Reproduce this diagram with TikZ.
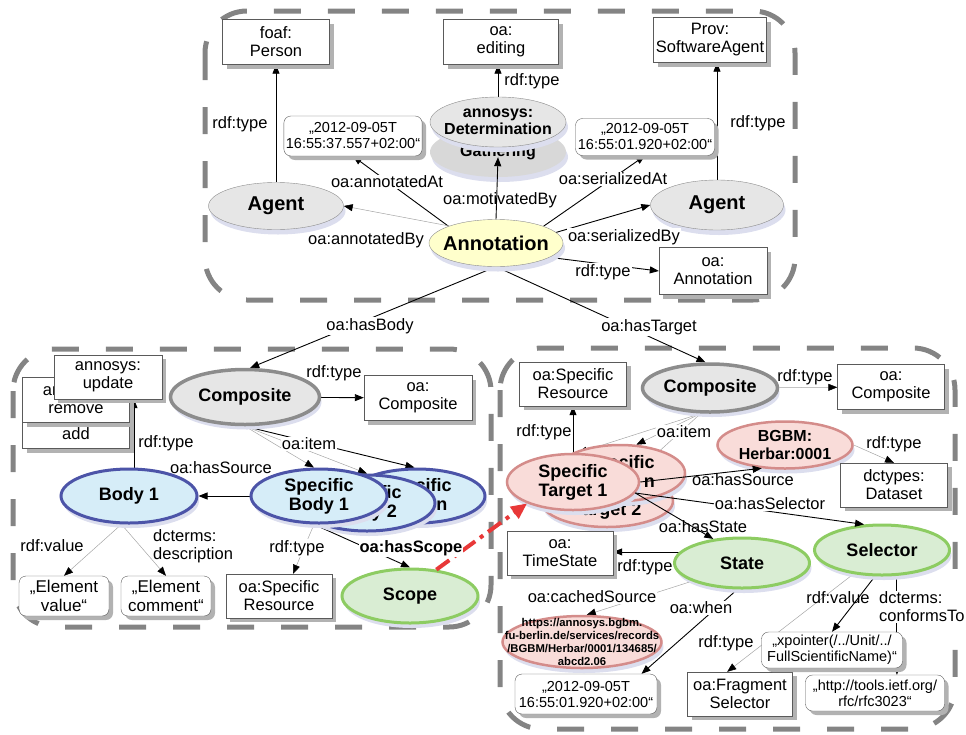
\documentclass[tikz,border=0pt]{standalone}
\usepackage{fontspec}
\setmainfont{Liberation Sans}
\usetikzlibrary{arrows.meta, positioning, shapes.geometric, shadows, backgrounds}
\definecolor{FrameGrey}{RGB}{132,132,132}
\definecolor{ResGrey}{RGB}{230,230,230}
\definecolor{ResLine}{RGB}{140,140,140}
\definecolor{GathGrey}{RGB}{216,216,216}
\definecolor{AnnoYellow}{RGB}{255,255,204}
\definecolor{BodyBlue}{RGB}{214,237,248}
\definecolor{BodyLine}{RGB}{76,84,168}
\definecolor{ScopeGreen}{RGB}{217,237,211}
\definecolor{ScopeLine}{RGB}{141,204,98}
\definecolor{TargetPink}{RGB}{249,220,217}
\definecolor{TargetLine}{RGB}{212,140,138}
\definecolor{BoxLine}{RGB}{90,90,90}
\definecolor{ShadowGrey}{RGB}{178,178,178}
\definecolor{ShadowBlue}{RGB}{220,222,238}
\definecolor{ThinGrey}{RGB}{165,165,165}
\definecolor{ScopeRed}{RGB}{232,56,56}
\newcommand{\txtfont}{\fontsize{16.5}{18}\selectfont}
\newcommand{\litfont}{\fontsize{14.5}{16}\selectfont}
\newcommand{\elemfont}{\fontsize{17}{18.5}\selectfont}
\newcommand{\resfont}{\fontsize{18}{19}\selectfont\bfseries}
\newcommand{\bigresfont}{\fontsize{20}{22}\selectfont\bfseries}
\newcommand{\detfont}{\fontsize{16}{17}\selectfont\bfseries}
\newcommand{\cachefont}{\fontsize{11.3}{13.3}\selectfont\bfseries}

\begin{document}
\begin{tikzpicture}[x=1pt, y=-1pt, every node/.style={font=\txtfont},
    frame/.style={draw=FrameGrey, line width=5pt, dash pattern=on 27pt off 27pt, rounded corners=42pt},
    cls/.style={draw=BoxLine, fill=white, align=center, inner sep=2pt, minimum width=107pt, minimum height=45pt,
      drop shadow={shadow xshift=4pt, shadow yshift=-4pt, fill=ShadowGrey, opacity=1}},
    lit/.style={cls, rounded corners=7pt, font=\litfont, minimum height=40pt},
    res/.style={ellipse, align=center, inner xsep=-8pt, inner ysep=0pt, font=\resfont, minimum width=135pt, minimum height=50pt,
      drop shadow={shadow xshift=2pt, shadow yshift=-5pt, fill=ShadowBlue, opacity=1}},
    greyres/.style={res, draw=ResLine, fill=ResGrey},
    compres/.style={greyres, line width=3.5pt},
    bodyres/.style={res, draw=BodyLine, fill=BodyBlue, line width=3pt},
    greenres/.style={res, draw=ScopeLine, fill=ScopeGreen, line width=3pt},
    pinkres/.style={res, draw=TargetLine, fill=TargetPink, line width=2.5pt},
    lbl/.style={inner sep=1pt, align=left},
    cutlbl/.style={lbl, fill=white},
    arr/.style={-{Triangle[length=9pt, width=7pt]}, line width=0.9pt},
    thinarr/.style={-{Triangle[length=9pt, width=7pt, black]}, draw=ThinGrey, line width=0.5pt},
    scopelink/.style={-{Triangle[length=16pt, width=14pt]}, draw=ScopeRed, line width=4pt, dash pattern=on 16pt off 6pt on 4pt off 6pt}]

  \useasboundingbox (0,0) rectangle (966,734);

  % --- ANNOTATION ---
  \node[cls] (person) at (276,42) {foaf:\\Person};
  \node[cls, minimum width=115pt] (editing) at (501,42) {oa:\\editing};
  \node[cls, minimum width=113pt] (prov) at (710,40) {Prov:\\SoftwareAgent};
  \node[lit, minimum width=138pt] (tsAt) at (353,136) {„2012-09-05T\\16:55:37.557+02:00“};
  \node[lit, minimum width=139pt, minimum height=37pt] (tsSer) at (645,137) {„2012-09-05T\\16:55:01.920+02:00“};
  \node[res, fill=GathGrey, minimum width=136pt, font=\detfont] (gath) at (498,152) {Gathering};
  \node[greyres, minimum width=136pt, inner xsep=-12pt, font=\detfont] (det) at (498,122) {annosys:\\Determination};
  \node[greyres, font=\bigresfont, minimum height=47pt] (agentBy) at (276,206) {Agent};
  \node[greyres, font=\bigresfont, minimum width=133pt] (agentSer) at (717,205) {Agent};
  \node[res, draw=ResLine, fill=AnnoYellow, font=\bigresfont, minimum width=134pt, minimum height=47pt] (annot) at (496,243) {Annotation};
  \node[cls, minimum width=108pt, minimum height=47pt] (oaAnnot) at (713,271) {oa:\\Annotation};

  % --- BODY ---
  \node[cls] (updAdd) at (76,426) {annosys:\\add};
  \node[cls] (updRemove) at (76,400) {annosys:\\remove};
  \node[cls, minimum width=108pt, minimum height=44pt] (upd) at (108,377) {annosys:\\update};
  \node[compres, minimum width=149pt, minimum height=55pt] (compBody) at (245,397) {Composite};
  \node[cls, minimum width=108pt] (oaCompBody) at (418,398) {oa:\\Composite};
  \node[bodyres, minimum width=136pt, minimum height=54pt] (body1) at (129,496) {Body 1};
  \node[bodyres, minimum width=136pt, minimum height=54pt] (sbodyN) at (417,496) {Specific\\Body n};
  \node[bodyres, minimum width=136pt, minimum height=56pt] (sbody2) at (367,503) {Specific\\Body 2};
  \node[bodyres, minimum width=136pt, minimum height=54pt] (sbody1) at (319,496) {Specific\\Body 1};
  \node[cls, minimum width=106pt, minimum height=44pt] (resBody) at (279,596) {oa:Specific\\Resource};
  \node[greenres, minimum width=136pt, minimum height=54pt] (scope) at (410,596) {Scope};
  \node[lit, minimum width=90pt, font=\elemfont] (elValue) at (64,596) {„Element\\value“};
  \node[lit, minimum width=90pt, font=\elemfont] (elComment) at (166,596) {„Element\\comment“};

  % --- TARGET ---
  \node[cls, minimum height=44pt] (resTarget) at (573,384) {oa:Specific\\Resource};
  \node[compres, minimum height=48pt] (compTarget) at (710,388) {Composite};
  \node[cls] (oaCompTarget) at (891,387) {oa:\\Composite};
  \node[pinkres, minimum height=47pt, font=\fontsize{16}{18}\selectfont\bfseries] (bgbm) at (785,445) {BGBM:\\Herbar:0001};
  \node[cls, minimum height=44pt] (dataset) at (894,485) {dctypes:\\Dataset};
  \node[pinkres, minimum width=132pt, minimum height=52pt] (stgt2) at (607,501) {Specific\\Target 2};
  \node[pinkres, minimum width=130pt, minimum height=56pt] (stgtN) at (620,473) {Specific\\Target n};
  \node[pinkres, minimum width=132pt, minimum height=56pt] (stgt1) at (573,482) {Specific\\Target 1};
  \node[greenres] (state) at (742,563) {State};
  \node[greenres] (selector) at (882,550) {Selector};
  \node[cls, minimum width=106pt, minimum height=44pt] (timeState) at (560,553) {oa:\\TimeState};
  \node[pinkres, minimum width=159pt, minimum height=52pt, inner xsep=-22pt, inner ysep=-9pt, font=\cachefont] (cache) at (582,642)
    {https://annosys.bgbm.\\fu-berlin.de/services/records\\/BGBM/Herbar/0001/134685/\\abcd2.06};
  \node[lit, minimum width=142pt] (tsWhen) at (586,694) {„2012-09-05T\\16:55:01.920+02:00“};
  \node[cls, minimum width=105pt, minimum height=44pt] (fragment) at (740,694) {oa:Fragment\\Selector};
  \node[lit, minimum width=141pt, minimum height=36pt] (xptr) at (832,650) {„xpointer(/../Unit/../\\FullScientificName)“};
  \node[lit, minimum width=139pt, minimum height=36pt] (rfc) at (875,693) {„http://tools.ietf.org/\\rfc/rfc3023“};

  % --- GROUPS AND CONNECTORS (behind the nodes) ---
  \begin{scope}[on background layer]
    \draw[frame] (205,11) rectangle (795,300);
    \draw[frame] (13,349) rectangle (491,627);
    \draw[frame] (500,348) rectangle (955,729);

    \draw[arr] (agentBy) -- (person);
    \draw[arr] (annot.north west) -- (tsAt.south);
    \draw[thinarr] (annot.160) -- (agentBy.east);
    \draw[arr] (det.north) -- (det.north |- editing.south);
    \draw[arr] (annot.north east) -- (tsSer.south);
    \draw[arr] (annot.10) -- (agentSer.west);
    \draw[arr] (agentSer.north) -- (agentSer.north |- prov.south);
    \draw[arr] (annot.-15) -- (oaAnnot.west);
    \draw[arr] (annot.south) -- (compBody.80);
    \draw[arr] (annot.south) -- (compTarget.100);

    \draw[arr] (compBody) -- (oaCompBody);
    \draw[thinarr] (compBody.south) -- (sbody1.100);
    \draw[thinarr] (compBody.south) -- (sbody2.north);
    \draw[arr] (compBody.south) -- (sbodyN.95);
    \draw[arr] (sbody1) -- (body1);
    \draw[arr] (body1.80) -- (body1.80 |- upd.south);
    \draw[thinarr] (body1.-105) -- (elValue.north);
    \draw[thinarr] (body1.-105) -- (elComment.north);
    \draw[thinarr] (sbody1.-100) -- ([xshift=14pt]resBody.north);
    \draw[arr] (sbody1.-100) -- (scope.north);

    \draw[arr] (stgt1) -- (resTarget);
    \draw[thinarr] (compTarget) -- (oaCompTarget);
    \draw[thinarr] (compTarget.250) -- (stgt1.80);
    \draw[thinarr] (compTarget.250) -- (stgtN.60);
    \draw[thinarr] (compTarget.250) -- (stgt2.45);
    \draw[thinarr] (bgbm.east) -- (dataset.north);
    \draw[arr] (state.170) -- (state.170 -| timeState.east);
    \draw[thinarr] (state.200) -- (cache.80);
    \draw[arr] (state.-100) -- (tsWhen.20);
    \draw[thinarr] (selector.-140) -- (fragment.120);
    \draw[arr] (selector.-105) -- (xptr.north);
    \draw[arr] (selector.-60) -- (selector.-60 |- rfc.north);
  \end{scope}

  % over the stacked ellipses
  \draw[arr] (annot.north) -- ([yshift=-10pt]det.south);
  \draw[arr] (stgt1.east) -- (bgbm.225);
  \draw[arr] (stgt1.-10) -- (selector.125);
  \draw[arr] (stgt1.-10) -- (state.140);
  \draw[scopelink] (scope.45) -- (stgt1.205);

  % --- PROPERTY LABELS ---
  \node[cutlbl] (lPerson) at (240,124) {rdf:type};
  \node[cutlbl] (lAnnAt) at (387,182) {oa:annotatedAt};
  \node[lbl] (lAnnBy) at (366,240) {oa:annotatedBy};
  \node[lbl] (lMotiv) at (500,200) {oa:motivatedBy};
  \node[cutlbl] (lEditing) at (532,81) {rdf:type};
  \node[cutlbl] (lSerAt) at (613,179) {oa:serializedAt};
  \node[cutlbl] (lSerBy) at (624,237) {oa:serializedBy};
  \node[cutlbl] (lProv) at (758,123) {rdf:type};
  \node[cutlbl] (lAnnType) at (603,272) {rdf:type};
  \node[cutlbl] (lBody) at (370,326) {oa:hasBody};
  \node[cutlbl] (lTarget) at (649,327) {oa:hasTarget};

  \node[lbl] (lCompBody) at (334,373) {rdf:type};
  \node[cutlbl] (lItemBody) at (309,444) {oa:item};
  \node[lbl] (lSrcBody) at (221,468) {oa:hasSource};
  \node[cutlbl] (lUpd) at (166,443) {rdf:type};
  \node[lbl] (lValue) at (52,546) {rdf:value};
  \node[lbl, anchor=west] (lDesc) at (152,546) {dcterms:\\description};
  \node[cutlbl] (lResBody) at (297,548) {rdf:type};
  \node[cutlbl, font=\txtfont\bfseries] (lScope) at (411,548) {oa:hasScope};

  \node[lbl] (lCompTarget) at (805,377) {rdf:type};
  \node[cutlbl] (lItemTarget) at (684,432) {oa:item};
  \node[cutlbl] (lResTarget) at (544,432) {rdf:type};
  \node[lbl] (lDataset) at (894,444) {rdf:type};
  \node[lbl] (lSrcTarget) at (743,480) {oa:hasSource};
  \node[cutlbl] (lSelector) at (770,504) {oa:hasSelector};
  \node[lbl] (lState) at (703,527) {oa:hasState};
  \node[lbl] (lTimeState) at (645,567) {rdf:type};
  \node[cutlbl] (lCache) at (592,597) {oa:cachedSource};
  \node[cutlbl] (lWhen) at (701,608) {oa:when};
  \node[lbl] (lFragment) at (726,643) {rdf:type};
  \node[lbl] (lXptr) at (838,598) {rdf:value};
  \node[cutlbl, anchor=west] (lRfc) at (878,607) {dcterms:\\conformsTo};

\end{tikzpicture}
\end{document}
